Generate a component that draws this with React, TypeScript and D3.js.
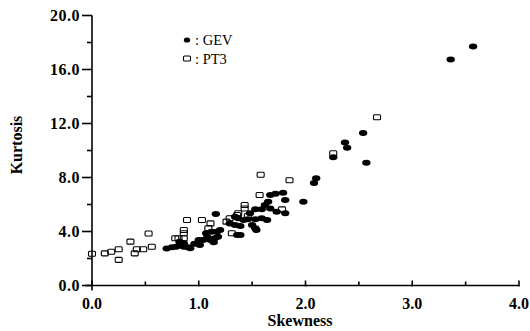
import React from 'react';
import * as d3 from 'd3';

// GEV (filled dots): [skewness, kurtosis]
const gevSkew = [0.70, 0.75, 0.79, 0.82, 0.86, 0.90, 0.82, 0.86, 0.92, 1.00, 1.01, 1.04, 1.11, 1.15, 1.18, 1.07, 1.12, 1.17, 1.20, 1.16, 1.29, 1.34, 1.39, 1.36, 1.39, 1.54, 1.34, 1.37, 1.42, 1.46, 1.53, 1.59, 1.64, 1.48, 1.50, 1.53, 1.53, 1.59, 1.62, 1.65, 1.67, 1.73, 1.81, 1.67, 1.72, 1.79, 1.81, 1.98, 2.08, 2.10, 2.26, 2.37, 2.39, 2.54, 2.57, 3.36, 3.57, 1.08, 1.14, 0.96];
const gevKurt = [2.75, 2.83, 2.87, 3.00, 2.87, 2.83, 3.24, 3.13, 2.76, 3.37, 3.00, 3.37, 3.37, 3.50, 3.61, 3.87, 3.98, 3.98, 4.11, 5.30, 4.60, 4.48, 4.40, 3.74, 3.74, 4.11, 5.10, 4.98, 4.85, 4.90, 4.90, 4.98, 4.85, 5.35, 4.48, 4.24, 5.64, 5.64, 5.96, 6.20, 5.70, 5.47, 5.35, 6.70, 6.80, 6.87, 6.33, 6.20, 7.60, 7.94, 9.50, 10.60, 10.20, 11.30, 9.10, 16.75, 17.70, 3.60, 3.20, 3.10];

// PT3 (open squares)
const pt3Skew = [0.00, 0.12, 0.18, 0.25, 0.25, 0.36, 0.40, 0.42, 0.48, 0.53, 0.56, 0.78, 0.81, 0.86, 0.86, 0.86, 0.89, 1.03, 1.11, 1.09, 1.26, 1.29, 1.31, 1.36, 1.37, 1.43, 1.43, 1.46, 1.57, 1.78, 1.58, 1.85, 2.26, 2.67];
const pt3Kurt = [2.35, 2.38, 2.50, 2.68, 1.90, 3.25, 2.38, 2.68, 2.68, 3.85, 2.87, 3.50, 3.50, 3.50, 3.87, 4.11, 4.85, 4.85, 4.60, 4.24, 4.73, 4.98, 3.87, 5.22, 5.35, 5.96, 5.70, 5.15, 6.70, 5.64, 8.20, 7.80, 9.80, 12.46];

const xTicks = [0, 1, 2, 3, 4];
const xMinor = [0.5, 1.5, 2.5, 3.5];
const yTicks = [0, 4, 8, 12, 16, 20];
const yMinor = [2, 6, 10, 14, 18];

const W = 530;
const H = 331;
const font = '"Liberation Serif", "Times New Roman", serif';

export default function App() {
  const x = d3.scaleLinear().domain([0, 4]).range([92, 519]);
  const y = d3.scaleLinear().domain([0, 20]).range([285.5, 15.5]);

  const gev = gevSkew.map((s, i) => [s, gevKurt[i]]);
  const pt3 = pt3Skew.map((s, i) => [s, pt3Kurt[i]]);

  return (
    <svg width={W} height={H} style={{ position: 'absolute', left: 0, top: 0, background: '#fff' }}>
      {/* axes */}
      <g stroke="#000" strokeWidth={1.6} fill="none">
        <line x1={x(0)} x2={x(0)} y1={y(20)} y2={y(0) + 5} />
        <line x1={x(0) - 7} x2={x(4)} y1={y(0)} y2={y(0)} />
        {yTicks.map(t => (
          <line key={'yt' + t} x1={x(0) - 10} x2={x(0)} y1={y(t)} y2={y(t)} />
        ))}
        {yMinor.map(t => (
          <line key={'ym' + t} x1={x(0) - 5} x2={x(0)} y1={y(t)} y2={y(t)} />
        ))}
        {xTicks.map(t => (
          <line key={'xt' + t} x1={x(t)} x2={x(t)} y1={y(0) - 5} y2={y(0) + 1} />
        ))}
        {xMinor.map(t => (
          <line key={'xm' + t} x1={x(t)} x2={x(t)} y1={y(0) - 4} y2={y(0)} />
        ))}
      </g>

      {/* tick labels */}
      <g fontFamily={font} fontWeight="bold" fontSize={16} fill="#000">
        {yTicks.map(t => (
          <text key={'yl' + t} x={x(0) - 12} y={y(t)} dy="0.35em" textAnchor="end" letterSpacing={0.5}>
            {t.toFixed(1)}
          </text>
        ))}
        {xTicks.map(t => (
          <text key={'xl' + t} x={x(t)} y={309} textAnchor="middle">
            {t.toFixed(1)}
          </text>
        ))}
        <text x={300} y={326} textAnchor="middle">Skewness</text>
        <text transform="translate(22,145) rotate(-90)" textAnchor="middle">Kurtosis</text>
      </g>

      {/* GEV points */}
      <g fill="#000">
        {gev.map((d, i) => (
          <ellipse key={'g' + i} cx={x(d[0])} cy={y(d[1])} rx={4.2} ry={3} />
        ))}
      </g>

      {/* PT3 points */}
      <g fill="none" stroke="#000" strokeWidth={1.1}>
        {pt3.map((d, i) => (
          <rect key={'p' + i} x={x(d[0]) - 3.5} y={y(d[1]) - 2.5} width={7} height={5} rx={1} />
        ))}
      </g>

      {/* legend */}
      <g fontFamily={font} fontSize={14.5} fill="#000">
        <ellipse cx={187} cy={40} rx={3.2} ry={2.6} />
        <text x={195} y={45}>: GEV</text>
        <rect x={183.5} y={56} width={7} height={5} rx={1} fill="none" stroke="#000" strokeWidth={1.1} />
        <text x={195} y={63.5}>: PT3</text>
      </g>
    </svg>
  );
}
